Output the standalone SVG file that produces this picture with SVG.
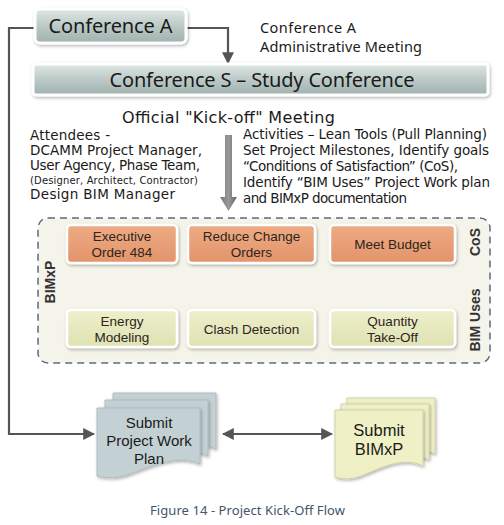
<svg xmlns="http://www.w3.org/2000/svg" width="504" height="525" viewBox="0 0 504 525">
<defs>
<linearGradient id="gConf" x1="0" y1="0" x2="0" y2="1">
<stop offset="0" stop-color="#dfe7e4"/>
<stop offset="0.5" stop-color="#bccac7"/>
<stop offset="1" stop-color="#9fb1ae"/>
</linearGradient>
<linearGradient id="gOr" x1="0" y1="0" x2="0" y2="1">
<stop offset="0" stop-color="#eeab84"/>
<stop offset="1" stop-color="#e2946a"/>
</linearGradient>
<linearGradient id="gGr" x1="0" y1="0" x2="0" y2="1">
<stop offset="0" stop-color="#edefcb"/>
<stop offset="1" stop-color="#dfe2b2"/>
</linearGradient>
<linearGradient id="gBig" x1="0" y1="0" x2="1" y2="0">
<stop offset="0" stop-color="#777"/>
<stop offset="0.5" stop-color="#999"/>
<stop offset="1" stop-color="#666"/>
</linearGradient>
<filter id="sh" x="-10%" y="-20%" width="120%" height="150%">
<feDropShadow dx="1" dy="1.5" stdDeviation="1.5" flood-color="#000" flood-opacity="0.3"/>
</filter>
<marker id="ah" markerUnits="userSpaceOnUse" markerWidth="12" markerHeight="12" viewBox="0 0 10 10" refX="9" refY="5" orient="auto-start-reverse">
<path d="M0,0 L10,5 L0,10 Z" fill="#555"/>
</marker>
<path id="docShape" d="M0,0 H103 V56 C80,46 55,58 30,67 C18,71 8,70 0,68 Z"/>
<path id="docShape2" d="M0,0 H88 V56 C68,46 46,58 26,66 C15,70 7,69 0,67 Z"/>
</defs>
<style>
.conf{fill:url(#gConf);stroke:#fff;stroke-width:3;filter:url(#sh)}
.or{fill:url(#gOr);stroke:#fff;stroke-width:2.5;filter:url(#sh)}
.gr{fill:url(#gGr);stroke:#fff;stroke-width:2.5;filter:url(#sh)}
.cal{font-family:"Noto Sans","Liberation Sans",sans-serif;fill:#1a1a1a}
.lib{font-family:"Liberation Sans",Arial,sans-serif;fill:#1a1a1a;text-anchor:middle}
.cg{font-family:"DejaVu Sans","Liberation Sans",sans-serif;fill:#1a1a1a}
.bx{font-family:"Liberation Sans",Arial,sans-serif;font-size:13.5px;fill:#2e241c;text-anchor:middle}
.lbl{font-family:"Liberation Sans",Arial,sans-serif;font-size:14px;font-weight:bold;fill:#333;text-anchor:middle}
.conn{fill:none;stroke:#555;stroke-width:2.2}
.dn{fill:#555}
.docB{fill:#c4d1d4;stroke:#aebcbf;stroke-width:1;filter:url(#sh)}
.docY{fill:#eff0c6;stroke:#d0d1a6;stroke-width:1;filter:url(#sh)}
</style>
<rect width="504" height="525" fill="#fff"/>

<g id="connectors">
<path class="conn" d="M35,28 H9 V434 H94" marker-end="url(#ah)"/>
<path class="conn" d="M187,28 H228 V63" marker-end="url(#ah)"/>
<path class="conn" d="M223,434 H332" marker-start="url(#ah)" marker-end="url(#ah)"/>
<path fill="url(#gBig)" d="M225,135 H232 V197 H237 L228.5,211 L220,197 H225 Z"/>
<path class="dn" d="M118,264 H124 V293 H130 L121,305 L112,293 H118 Z"/>
<path class="dn" d="M248,264 H254 V293 H260 L251,305 L242,293 H248 Z"/>
<path class="dn" d="M387,264 H393 V293 H399 L390,305 L381,293 H387 Z"/>
</g>

<g id="conference-a">
<rect class="conf" x="35" y="9" width="151" height="34" rx="5"/>
<text class="cal" x="110.5" y="33" font-size="20" text-anchor="middle" textLength="124">Conference A</text>
</g>

<g id="conference-a-note">
<text class="cal" x="260" y="33" font-size="14.5" textLength="96">Conference A</text>
<text class="cal" x="260" y="52" font-size="14.5" textLength="162">Administrative Meeting</text>
</g>

<g id="conference-s">
<rect class="conf" x="33" y="64" width="455" height="31" rx="3"/>
<text class="cal" x="262" y="87" font-size="20" text-anchor="middle" textLength="305">Conference S – Study Conference</text>
</g>

<g id="kickoff">
<text class="cg" x="122" y="123" font-size="16" textLength="213">Official "Kick-off" Meeting</text>
</g>

<g id="attendees">
<text class="cg" x="30" y="140" font-size="13.5" textLength="80">Attendees -</text>
<text class="cg" x="30" y="155" font-size="13.5" textLength="172">DCAMM Project Manager,</text>
<text class="cg" x="30" y="170" font-size="13.5" textLength="170">User Agency, Phase Team,</text>
<text class="cg" x="30" y="184" font-size="10" textLength="168">(Designer, Architect, Contractor)</text>
<text class="cg" x="30" y="199" font-size="13.5" textLength="145">Design BIM Manager</text>
</g>

<g id="activities">
<text class="cg" x="243" y="139" font-size="13.5" textLength="244">Activities – Lean Tools (Pull Planning)</text>
<text class="cg" x="243" y="155" font-size="13.5" textLength="246">Set Project Milestones, Identify goals</text>
<text class="cg" x="243" y="171" font-size="13.5" textLength="215">“Conditions of Satisfaction” (CoS),</text>
<text class="cg" x="243" y="187" font-size="13.5" textLength="247">Identify “BIM Uses” Project Work plan</text>
<text class="cg" x="243" y="203" font-size="13.5" textLength="164">and BIMxP documentation</text>
</g>

<g id="bimxp-container">
<rect x="38" y="218" width="452" height="145" rx="10" fill="#f4f4ea" stroke="#5b6b82" stroke-width="1.5" stroke-dasharray="7,5"/>
<text class="lbl" transform="translate(55,282) rotate(-90)">BIMxP</text>
<text class="lbl" transform="translate(480,242) rotate(-90)">CoS</text>
<text class="lbl" transform="translate(480,320) rotate(-90)">BIM Uses</text>
</g>

<g id="executive-order">
<rect class="or" x="67" y="225" width="110" height="38" rx="4"/>
<text class="bx" x="122" y="241">Executive</text>
<text class="bx" x="122" y="257">Order 484</text>
</g>
<g id="reduce-change">
<rect class="or" x="188" y="225" width="127" height="38" rx="4"/>
<text class="bx" x="251.5" y="241">Reduce Change</text>
<text class="bx" x="251.5" y="257">Orders</text>
</g>
<g id="meet-budget">
<rect class="or" x="330" y="225" width="125" height="38" rx="4"/>
<text class="bx" x="392.5" y="249">Meet Budget</text>
</g>

<g id="energy-modeling">
<rect class="gr" x="67" y="310" width="110" height="37" rx="4"/>
<text class="bx" x="122" y="326">Energy</text>
<text class="bx" x="122" y="342">Modeling</text>
</g>
<g id="clash-detection">
<rect class="gr" x="188" y="310" width="127" height="37" rx="4"/>
<text class="bx" x="251.5" y="334">Clash Detection</text>
</g>
<g id="quantity-takeoff">
<rect class="gr" x="330" y="310" width="125" height="37" rx="4"/>
<text class="bx" x="392.5" y="326">Quantity</text>
<text class="bx" x="392.5" y="342">Take-Off</text>
</g>

<g id="submit-work-plan">
<use href="#docShape" class="docB" transform="translate(113,393)"/>
<use href="#docShape" class="docB" transform="translate(105,400)"/>
<use href="#docShape" class="docB" transform="translate(97,408)"/>
<text class="lib" x="149" y="428" font-size="15">Submit</text>
<text class="lib" x="149" y="446" font-size="15">Project Work</text>
<text class="lib" x="149" y="464" font-size="15">Plan</text>
</g>

<g id="submit-bimxp">
<use href="#docShape2" class="docY" transform="translate(347,398)"/>
<use href="#docShape2" class="docY" transform="translate(341,404)"/>
<use href="#docShape2" class="docY" transform="translate(335,410)"/>
<text class="lib" x="379" y="436" font-size="16.5">Submit</text>
<text class="lib" x="379" y="455" font-size="16.5">BIMxP</text>
</g>

<g id="caption">
<text class="cal" x="247.5" y="515" font-size="13" text-anchor="middle" style="fill:#44546a" textLength="195">Figure 14 - Project Kick-Off Flow</text>
</g>
</svg>
